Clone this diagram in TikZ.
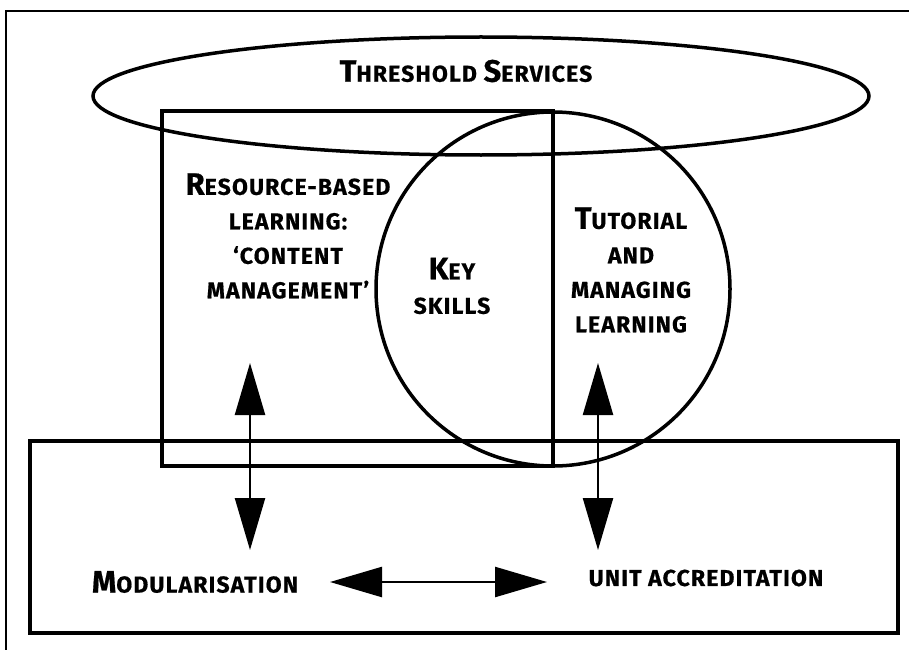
\documentclass[tikz,border=0pt]{standalone}
\usepackage{fontspec}
\setmainfont{Fira Sans}[LetterSpace=5, BoldFeatures={FakeBold=0.6}]
\usetikzlibrary{arrows.meta}
\newcommand\Bg[1]{{\fontsize{31}{31}\selectfont #1}}
\tikzset{
  shape line/.style={line width=3.5pt},
  lbl/.style={font=\fontsize{23}{34.5}\selectfont\bfseries, align=center, inner sep=0pt},
  dbl/.style={line width=2.4pt, {Triangle[length=52pt,width=30pt]}-{Triangle[length=52pt,width=30pt]}},
}
\begin{document}
\begin{tikzpicture}[x=1pt,y=-1pt]
\useasboundingbox (0,0) rectangle (909,650);
% outer frame (partial, as scanned)
\draw[line width=1.8pt] (909,11) -- (6,11) -- (6,650);
% threshold ellipse
\draw[shape line] (481,96) ellipse [x radius=388, y radius=59];
% upper rectangle with divider
\draw[shape line] (162,111) rectangle (553,466);
% key skills circle
\draw[shape line] (553,289) circle [radius=177];
% bottom rectangle
\draw[shape line] (30,441) rectangle (898,633);
% labels
\node[lbl] (thr) at (466,71) {\Bg{T}HRESHOLD \Bg{S}ERVICES};
\node[lbl] (rbl) at (288,236) {\Bg{R}ESOURCE-BASED\\LEARNING:\\‘CONTENT\\MANAGEMENT’};
\node[lbl] (key) at (452,286) {\Bg{K}EY\\SKILLS};
\node[lbl] (tut) at (631,270) {\Bg{T}UTORIAL\\AND\\MANAGING\\LEARNING};
\node[lbl] (mod) at (195,582) {\Bg{M}ODULARISATION};
\node[lbl] (ua) at (706,578) {UNIT ACCREDITATION};
% arrows
\coordinate (la1) at (250,363);
\coordinate (la2) at (250,550);
\coordinate (ra1) at (598,363);
\coordinate (ra2) at (598,550);
\coordinate (ha1) at (330,582);
\coordinate (ha2) at (547,582);
\draw[dbl] (la1) -- (la2);
\draw[dbl] (ra1) -- (ra2);
\draw[dbl] (ha1) -- (ha2);
\end{tikzpicture}
\end{document}
